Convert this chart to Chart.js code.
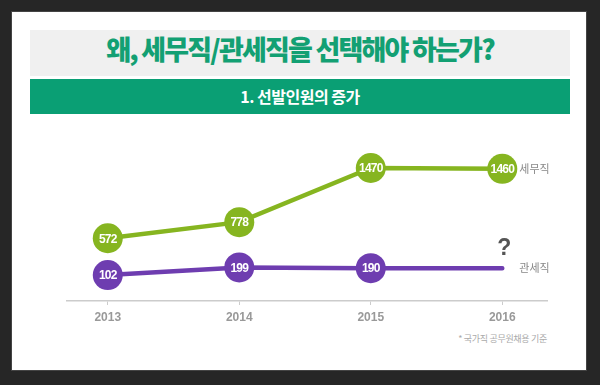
<!DOCTYPE html>
<html>
<head>
<meta charset="utf-8">
<script src="https://cdn.jsdelivr.net/npm/chart.js@4.4.1/dist/chart.umd.min.js"></script>
<style>
  body { margin:0; width:600px; height:385px; background:#262626; overflow:hidden; font-family:"Noto Sans CJK KR", sans-serif; }
  #frame { position:absolute; left:12px; top:12px; width:574px; height:358px; background:#fff; box-shadow:0 0 0 1px #444; }
  #title { position:absolute; left:30px; top:30px; width:540px; height:46px; background:#f0f0f0; color:#13a073; font-weight:900; font-size:27px; line-height:38px; text-align:center; letter-spacing:-1.8px; }
  #sub { position:absolute; left:30px; top:79px; width:540px; height:35px; background:#0a9f74; color:#fff; font-weight:700; font-size:16px; line-height:35px; text-align:center; letter-spacing:-0.5px; }
  #note { position:absolute; right:53px; top:332px; color:#aaa; font-size:9px; letter-spacing:-0.3px; }
  #myChart { position:absolute; left:0; top:0; }
</style>
</head>
<body>
<div id="frame"></div>
<div id="title">왜, 세무직/관세직을 선택해야 하는가?</div>
<div id="sub">1. 선발인원의 증가</div>
<div id="note">* 국가직 공무원채용 기준</div>
<canvas id="myChart" width="600" height="385"></canvas>
<script>
const years = [2013, 2014, 2015, 2016];
const taxValues = [572, 778, 1470, 1460];
const customsValues = [102, 199, 190, 190];   // 2016 unknown -> "?"
const taxLabels = ['572', '778', '1470', '1460'];
const customsLabels = ['102', '199', '190', '?'];
const seriesNames = ['세무직', '관세직'];

const green = '#86b520';
const purple = '#6e3db0';

// numbers in the circles, series names at the right, the "?" mark
const labelPlugin = {
    id: 'labels',
    afterDatasetsDraw(chart) {
        const ctx = chart.ctx;
        const sets = [taxLabels, customsLabels];
        ctx.save();
        for (let d = 0; d < 2; d++) {
            const pts = chart.getDatasetMeta(d).data;
            for (let i = 0; i < pts.length; i++) {
                const p = pts[i];
                ctx.textAlign = 'center';
                ctx.textBaseline = 'middle';
                if (sets[d][i] === '?') {
                    ctx.fillStyle = '#555';
                    ctx.letterSpacing = '0px';
                    ctx.font = 'bold 23px "Liberation Sans", sans-serif';
                    ctx.fillText('?', p.x + 2, p.y - 19);
                } else {
                    ctx.fillStyle = '#fff';
                    ctx.letterSpacing = '-0.8px';
                    ctx.font = 'bold 12px "Liberation Sans", sans-serif';
                    ctx.fillText(sets[d][i], p.x, p.y + 1);
                }
            }
            const last = pts[pts.length - 1];
            ctx.letterSpacing = '0px';
            ctx.fillStyle = '#888';
            ctx.font = '11px "Noto Sans CJK KR", sans-serif';
            ctx.textAlign = 'left';
            ctx.textBaseline = 'middle';
            ctx.fillText(seriesNames[d], last.x + 17, last.y);
        }
        ctx.restore();
    }
};

const ctx = document.getElementById("myChart").getContext("2d");
window.myChart = new Chart(ctx, {
    type: 'line',
    data: {
        datasets: [{
            label: seriesNames[0],
            data: years.map((y, i) => ({x: y, y: taxValues[i]})),
            borderColor: green,
            backgroundColor: green,
            borderWidth: 4.5,
            pointRadius: 15,
            pointBorderWidth: 0,
            pointBackgroundColor: green,
            tension: 0,
            clip: false
        }, {
            label: seriesNames[1],
            data: years.map((y, i) => ({x: y, y: customsValues[i]})),
            borderColor: purple,
            backgroundColor: purple,
            borderWidth: 4.5,
            borderCapStyle: 'round',
            pointRadius: [15, 15, 15, 0],
            pointBorderWidth: 0,
            pointBackgroundColor: purple,
            tension: 0,
            clip: false
        }]
    },
    options: {
        responsive: false,
        animation: false,
        events: [],
        layout: { padding: { left: 67, right: 53, top: 130, bottom: 54 } },
        plugins: { legend: { display: false }, tooltip: { enabled: false } },
        scales: {
            x: {
                type: 'linear',
                min: 2012.69,
                max: 2016.34,
                afterBuildTicks: s => { s.ticks = years.map(v => ({value: v})); },
                afterFit: s => { s.height = 30; },
                border: { color: '#cccccc', width: 1.5 },
                grid: { drawOnChartArea: false, tickLength: 4, color: '#cccccc' },
                ticks: {
                    callback: v => String(v),
                    color: '#999',
                    padding: 5,
                    font: { family: '"Liberation Sans", sans-serif', size: 12, weight: 'bold' }
                }
            },
            y: { display: false, min: -230, max: 1956 }
        }
    },
    plugins: [labelPlugin]
});
</script>
</body>
</html>
